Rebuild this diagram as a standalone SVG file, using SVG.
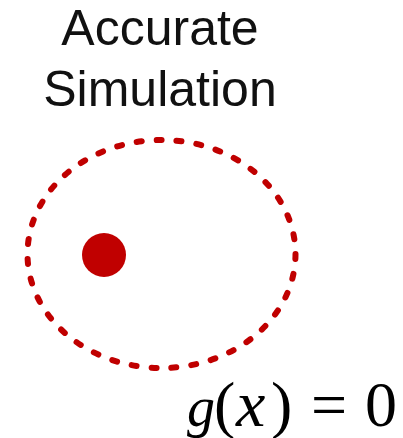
<svg xmlns="http://www.w3.org/2000/svg" width="403" height="438" viewBox="0 0 403 438">
<style>
.lbl{font-family:"Liberation Sans",Arial,sans-serif;font-size:50px;fill:#111;text-anchor:middle}
.math{font-family:"Liberation Serif","Times New Roman",serif;font-size:64px;fill:#000}
</style>
<rect width="403" height="438" fill="#fff"/>
<g id="title">
<text class="lbl" x="160" y="45">Accurate</text>
<text class="lbl" x="160" y="106">Simulation</text>
</g>
<g id="region">
<ellipse cx="161.5" cy="254" rx="134" ry="114" fill="none" stroke="#c00000" stroke-width="6" stroke-dasharray="5 15" stroke-linecap="round"/>
</g>
<g id="point">
<circle cx="104" cy="255" r="22" fill="#c00000"/>
</g>
<g id="equation">
<text class="math" y="426"><tspan x="187" font-style="italic" font-size="56">g</tspan><tspan x="214">(</tspan><tspan x="236" font-style="italic" font-size="66">x</tspan><tspan x="271">)</tspan><tspan x="311">=</tspan><tspan x="365">0</tspan></text>
</g>
</svg>
